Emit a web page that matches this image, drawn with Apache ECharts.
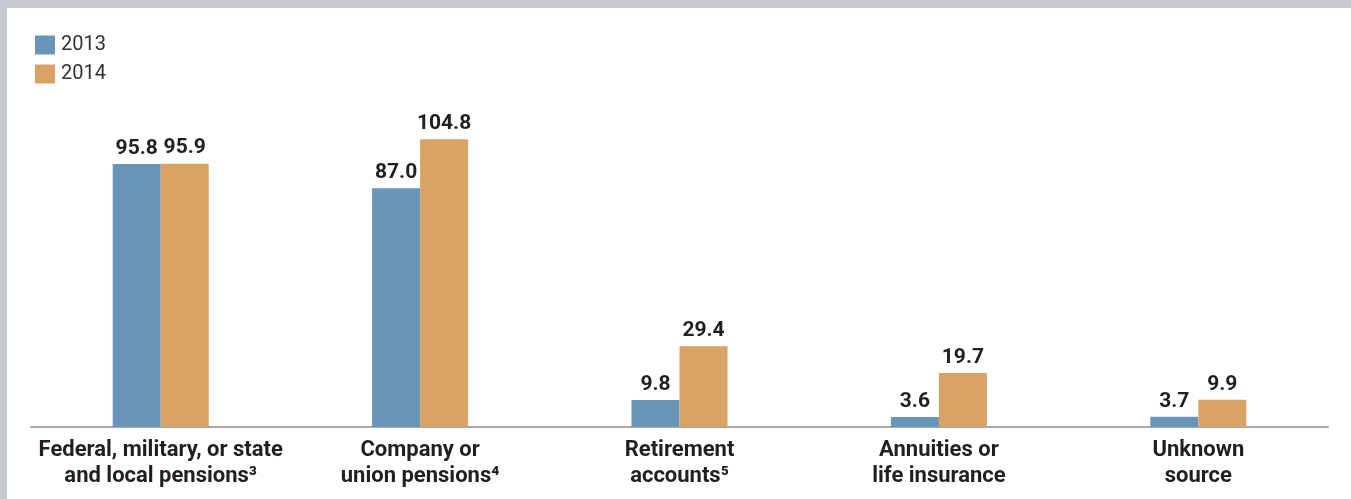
<!DOCTYPE html>
<html>
<head>
<meta charset="utf-8">
<script src="https://cdn.jsdelivr.net/npm/echarts@6/dist/echarts.min.js"></script>
<style>
    html, body { margin: 0; padding: 0; background: #c5cad1; }
    #frame { position: absolute; left: 7px; top: 8px; width: 1344px; height: 491px; background: #fff; }
    #chart { width: 1344px; height: 491px; }
</style>
</head>
<body>
<div id="frame"><div id="chart"></div></div>
<script>
    // 数据
    var categories = [
        'Federal, military, or state\nand local pensions\u00b3',
        'Company or\nunion pensions\u2074',
        'Retirement\naccounts\u2075',
        'Annuities or\nlife insurance',
        'Unknown\nsource'
    ];
    var values2013 = [95.8, 87.0, 9.8, 3.6, 3.7];
    var values2014 = [95.9, 104.8, 29.4, 19.7, 9.9];
    var seriesNames = ['2013', '2014'];

    var chart = echarts.init(document.getElementById('chart'));
    var labelStyle = {
        show: true,
        position: 'top',
        distance: 5,
        fontFamily: 'Roboto',
        fontWeight: 'bold',
        fontSize: 21,
        color: '#231f20',
        formatter: function (p) { return p.value.toFixed(1); }
    };
    var option = {
        animation: false,
        legend: {
            orient: 'vertical',
            left: 28,
            top: 27,
            padding: 0,
            itemWidth: 20,
            itemHeight: 19,
            itemGap: 9,
            icon: 'rect',
            data: seriesNames,
            textStyle: { fontFamily: 'Roboto', fontSize: 20, color: '#333', padding: [0, 0, 0, 1] }
        },
        grid: { left: 24, right: 23, top: 117, bottom: 72, containLabel: false },
        xAxis: {
            type: 'category',
            data: categories,
            axisLine: { lineStyle: { color: '#a8a8a8', width: 2 } },
            axisTick: { show: false },
            axisLabel: {
                interval: 0,
                margin: 10,
                fontFamily: 'Roboto',
                fontWeight: 'bold',
                fontSize: 22,
                lineHeight: 26,
                color: '#231f20'
            }
        },
        yAxis: {
            type: 'value',
            min: 0,
            max: 110,
            show: false,
            splitLine: { show: false }
        },
        series: [
            {
                name: seriesNames[0],
                type: 'bar',
                data: values2013,
                barWidth: 48,
                barGap: '0%',
                itemStyle: { color: '#6995bb' },
                label: labelStyle
            },
            {
                name: seriesNames[1],
                type: 'bar',
                data: values2014,
                barWidth: 48,
                itemStyle: { color: '#d8a364' },
                label: labelStyle
            }
        ]
    };
    chart.setOption(option);
</script>
</body>
</html>
